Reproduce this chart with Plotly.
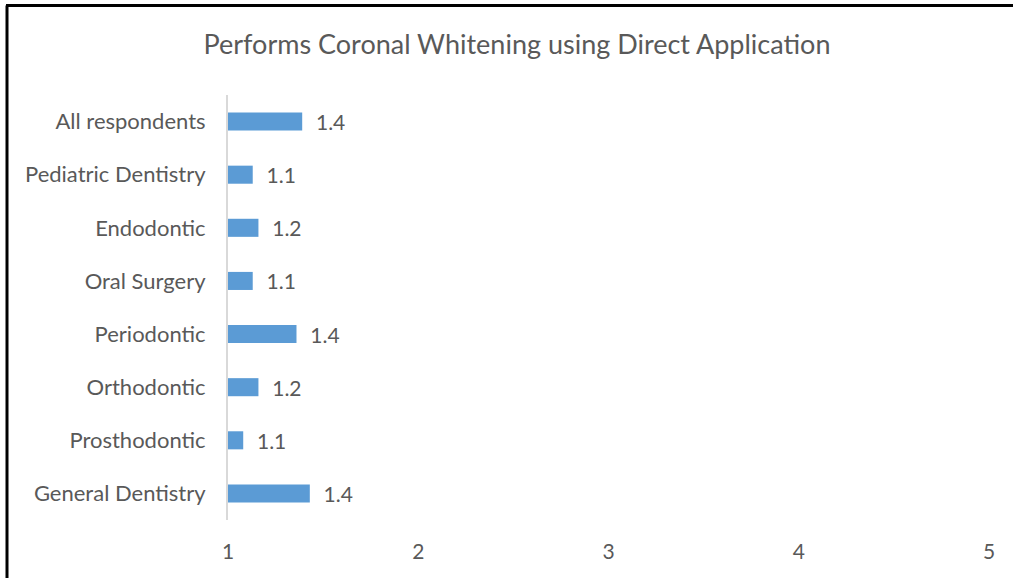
import plotly.graph_objects as go

categories = ["General Dentistry", "Prosthodontic", "Orthodontic", "Periodontic",
              "Oral Surgery", "Endodontic", "Pediatric Dentistry", "All respondents"]
values = [1.43, 1.08, 1.16, 1.36, 1.13, 1.16, 1.13, 1.39]
axis_base = 1
x_ticks = [1, 2, 3, 4, 5]

W, H = 1013, 578
L, R, T, B = 228, 24, 95, 58
pw, ph = W - L - R, H - T - B

def px_x(x):
    return (x - L) / pw

def px_y(y):
    return (H - B - y) / ph

FONT = "Lato"
GREY = "#595959"

fig = go.Figure(go.Bar(
    y=categories,
    x=[v - axis_base for v in values],
    base=axis_base,
    orientation="h",
    marker=dict(color="#5B9BD5", line=dict(width=0)),
    width=0.34,
    text=["\u00a0\u00a0" + f"{v:.1f}" for v in values],
    textposition="outside",
    constraintext="none",
    textfont=dict(family=FONT, size=21, color=GREY),
    cliponaxis=False,
    hoverinfo="skip",
))

fig.update_layout(
    width=W, height=H,
    margin=dict(l=L, r=R, t=T, b=B),
    paper_bgcolor="white", plot_bgcolor="white",
    title=dict(text="Performs Coronal Whitening using Direct Application",
               x=517 / W, xanchor="center", xref="container", y=1 - 45 / H, yanchor="middle",
               font=dict(family=FONT, size=27, color=GREY)),
    xaxis=dict(range=[1, 5], tickvals=x_ticks, showgrid=False, zeroline=False,
               showline=False, ticks="", ticklabelstandoff=17,
               tickfont=dict(family=FONT, size=21, color=GREY)),
    yaxis=dict(showgrid=False, zeroline=False, showline=True, linecolor="#D9D9D9",
               linewidth=2, ticks="", ticklabelstandoff=16,
               tickfont=dict(family=FONT, size=22, color=GREY)),
    showlegend=False,
    shapes=[
        dict(type="line", xref="paper", yref="paper", x0=px_x(6), x1=px_x(1013),
             y0=px_y(5.5), y1=px_y(5.5), line=dict(color="black", width=3)),
        dict(type="line", xref="paper", yref="paper", x0=px_x(7), x1=px_x(7),
             y0=px_y(5.5), y1=px_y(578), line=dict(color="black", width=3)),
    ],
)

fig.write_html("out.html", config={"displayModeBar": False},
               post_script="document.body.style.margin='0';document.body.style.overflow='hidden';")
